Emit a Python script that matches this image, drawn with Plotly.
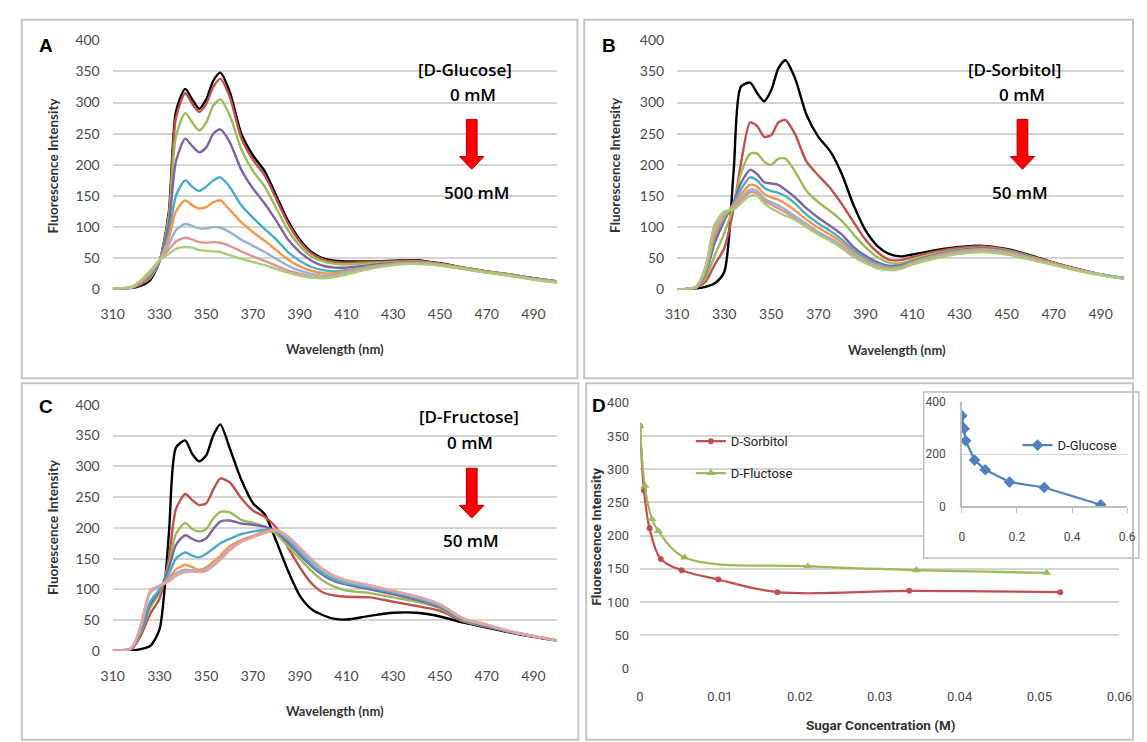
import plotly.graph_objects as go

W, H = 1147, 742

# ---------------- data ----------------
# emission wavelengths (nm) sampled for all spectra
wavelength = [310, 318, 322, 326, 330, 334, 337, 341, 344, 347, 350, 353, 356, 360, 365,
              370, 375, 380, 385, 390, 395, 400, 405, 410, 420, 430, 440, 450, 460, 470,
              480, 490, 500]

# Panel A: D-Glucose titration (0 -> 500 mM)
glucose_spectra = [
    [1, 2, 6, 15, 45, 125, 285, 322, 305, 290, 305, 335, 348, 318, 250, 215, 190, 150, 110, 80, 60, 50, 46, 45, 45, 46, 47, 42, 35, 29, 24, 18, 13],
    [1, 3, 8, 18, 45, 120, 275, 315, 298, 285, 298, 325, 338, 310, 243, 208, 183, 145, 106, 77, 58, 48, 44, 43, 44, 45, 46, 41, 35, 29, 24, 18, 13],
    [1, 3, 9, 20, 46, 115, 245, 283, 268, 255, 268, 295, 305, 280, 225, 190, 165, 130, 95, 70, 53, 45, 41, 40, 42, 44, 45, 41, 35, 29, 24, 18, 13],
    [1, 3, 10, 22, 46, 105, 205, 242, 230, 220, 228, 250, 257, 237, 192, 162, 138, 110, 80, 60, 46, 38, 35, 35, 39, 42, 44, 40, 34, 28, 23, 18, 12],
    [1, 3, 11, 24, 46, 90, 150, 175, 165, 158, 165, 175, 180, 165, 135, 115, 97, 80, 60, 46, 36, 31, 29, 31, 37, 41, 43, 40, 34, 28, 23, 17, 12],
    [1, 3, 12, 26, 47, 82, 125, 143, 135, 130, 132, 140, 143, 128, 108, 92, 78, 63, 48, 37, 30, 26, 26, 29, 36, 41, 43, 40, 34, 28, 23, 17, 12],
    [1, 3, 13, 28, 47, 72, 95, 105, 102, 98, 98, 100, 99, 92, 80, 70, 60, 49, 38, 30, 25, 22, 23, 27, 35, 40, 42, 39, 33, 27, 22, 17, 12],
    [1, 4, 14, 29, 47, 64, 77, 83, 80, 76, 75, 76, 75, 70, 61, 53, 46, 38, 30, 25, 21, 19, 21, 25, 34, 40, 42, 39, 33, 27, 22, 16, 11],
    [1, 4, 15, 30, 47, 57, 65, 68, 67, 63, 62, 61, 60, 55, 49, 44, 39, 33, 27, 22, 19, 18, 20, 24, 33, 39, 41, 38, 33, 27, 22, 16, 11],
]

# Panel B: D-Sorbitol titration (0 -> 50 mM)
sorbitol_spectra = [
    [0, 1, 4, 10, 28, 190, 325, 332, 315, 302, 320, 355, 368, 340, 280, 245, 222, 185, 135, 95, 70, 57, 53, 56, 63, 68, 70, 65, 55, 43, 33, 24, 18],
    [0, 3, 12, 40, 66, 130, 200, 268, 262, 245, 248, 268, 272, 250, 205, 183, 163, 137, 108, 80, 60, 48, 47, 52, 61, 67, 69, 64, 54, 43, 33, 24, 18],
    [0, 3, 18, 55, 90, 135, 185, 218, 218, 205, 200, 210, 210, 190, 158, 140, 126, 110, 88, 68, 52, 43, 42, 48, 58, 64, 67, 63, 53, 42, 32, 24, 18],
    [0, 3, 25, 75, 110, 140, 170, 192, 185, 172, 170, 168, 160, 148, 130, 115, 102, 88, 68, 54, 44, 38, 39, 45, 56, 63, 66, 62, 52, 41, 32, 24, 18],
    [0, 3, 28, 85, 115, 138, 160, 180, 175, 163, 158, 155, 150, 138, 120, 106, 94, 80, 63, 50, 41, 36, 37, 44, 55, 62, 65, 61, 52, 41, 32, 24, 18],
    [0, 4, 30, 90, 118, 135, 152, 168, 165, 153, 148, 144, 138, 127, 112, 99, 88, 75, 59, 47, 38, 34, 36, 43, 54, 61, 64, 60, 51, 41, 32, 24, 18],
    [0, 4, 33, 100, 122, 132, 146, 160, 158, 146, 140, 135, 128, 118, 105, 92, 82, 70, 56, 45, 36, 33, 35, 42, 53, 60, 63, 59, 50, 40, 31, 24, 18],
    [0, 4, 35, 103, 124, 130, 142, 156, 154, 142, 136, 130, 124, 114, 102, 89, 79, 67, 54, 43, 35, 32, 34, 41, 52, 59, 62, 58, 50, 40, 31, 23, 17],
    [0, 4, 36, 105, 125, 128, 138, 150, 150, 138, 130, 124, 118, 112, 100, 88, 78, 66, 52, 42, 34, 31, 33, 40, 50, 57, 60, 56, 48, 39, 30, 23, 17],
]

# Panel C: D-Fructose titration (0 -> 50 mM)
fructose_spectra = [
    [0, 1, 3, 8, 35, 190, 330, 342, 320, 308, 318, 350, 368, 330, 278, 240, 222, 178, 130, 90, 68, 58, 52, 51, 57, 62, 62, 56, 46, 38, 30, 23, 17],
    [0, 3, 25, 60, 85, 150, 230, 255, 245, 237, 240, 262, 280, 274, 248, 228, 218, 200, 168, 136, 110, 95, 90, 88, 87, 80, 73, 65, 48, 39, 31, 24, 17],
    [0, 4, 30, 70, 95, 140, 190, 208, 198, 194, 198, 215, 226, 225, 213, 208, 202, 190, 170, 150, 130, 114, 104, 98, 94, 87, 80, 69, 49, 40, 31, 24, 17],
    [0, 4, 32, 75, 98, 135, 172, 188, 182, 178, 183, 198, 210, 212, 207, 205, 202, 194, 176, 156, 138, 123, 113, 108, 100, 92, 83, 71, 50, 40, 31, 24, 17],
    [0, 4, 34, 80, 100, 125, 150, 160, 155, 152, 158, 166, 175, 182, 190, 194, 197, 196, 180, 160, 141, 126, 116, 110, 103, 95, 86, 73, 51, 41, 31, 24, 17],
    [0, 5, 40, 95, 105, 118, 132, 140, 136, 132, 136, 145, 155, 170, 180, 187, 194, 197, 185, 166, 147, 131, 120, 114, 106, 97, 88, 75, 52, 42, 32, 24, 17],
    [0, 5, 40, 95, 105, 115, 126, 132, 131, 130, 133, 140, 150, 165, 178, 185, 192, 195, 183, 165, 146, 130, 120, 113, 105, 97, 88, 75, 52, 42, 32, 24, 17],
    [0, 5, 42, 98, 106, 113, 122, 128, 129, 128, 130, 138, 148, 163, 177, 185, 192, 196, 186, 168, 149, 133, 122, 115, 107, 98, 89, 76, 53, 43, 32, 24, 17],
]

# Panel D: intensity at the emission maximum vs sugar concentration (M)
sorbitol_conc = [0, 0.0005, 0.0012, 0.0026, 0.0052, 0.0098, 0.0172, 0.0337, 0.0526]
sorbitol_int = [365, 268, 211, 165, 148, 134, 115, 117, 115]
fructose_conc = [0, 0.0006, 0.0015, 0.0023, 0.0056, 0.0210, 0.0346, 0.0509]
fructose_int = [365, 275, 225, 207, 167, 154, 148, 144]
glucose_conc = [0, 0.008, 0.014, 0.046, 0.085, 0.173, 0.299, 0.504]
glucose_int = [347, 297, 251, 177, 140, 93, 72, 6]

wl_ticks = list(range(310, 500, 20))

# ---------------- styling ----------------
series_colors = ["#000000", "#C0504D", "#9BBB59", "#8064A2", "#4BACC6",
                 "#F79646", "#95B3D7", "#D99694", "#ACCB7A"]
fructose_colors = ["#000000", "#C0504D", "#9BBB59", "#8064A2", "#4BACC6",
                   "#F79646", "#95B3D7", "#E8A2A2"]
GRID = "#D4D4D4"
TICK = "#4A4A4A"
FONT = "Lato, Open Sans, sans-serif"
NARROW = "Roboto, sans-serif"


def px(x):
    return x / W


def py(y):
    return 1 - y / H


fig = go.Figure()


def add_spectra(spectra, colors, xa, ya):
    for i, ys in enumerate(spectra):
        fig.add_trace(go.Scatter(
            x=wavelength, y=ys, mode="lines", xaxis=xa, yaxis=ya,
            line=dict(color=colors[i], width=2.4, shape="spline", smoothing=0.7),
            showlegend=False, hoverinfo="skip"))


add_spectra(glucose_spectra, series_colors, "x", "y")
add_spectra(sorbitol_spectra, series_colors, "x2", "y2")
add_spectra(fructose_spectra, fructose_colors, "x3", "y3")

fig.add_trace(go.Scatter(
    x=sorbitol_conc, y=sorbitol_int, mode="lines+markers", name="D-Sorbitol",
    xaxis="x4", yaxis="y4", legend="legend", legendgroup="s",
    line=dict(color="#C0504D", width=2.2, shape="spline", smoothing=1.0),
    marker=dict(symbol="circle", size=6, color="#C0504D")))
fig.add_trace(go.Scatter(
    x=fructose_conc, y=fructose_int, mode="lines+markers", name="D-Fluctose",
    xaxis="x4", yaxis="y4", legend="legend", legendgroup="f",
    line=dict(color="#9BBB59", width=2.2, shape="spline", smoothing=1.0),
    marker=dict(symbol="triangle-up", size=8, color="#9BBB59")))
fig.add_trace(go.Scatter(
    x=glucose_conc, y=glucose_int, mode="lines+markers", name="D-Glucose",
    xaxis="x5", yaxis="y5", legend="legend2",
    line=dict(color="#4F81BD", width=2.2),
    marker=dict(symbol="diamond", size=9, color="#4F81BD")))

tickfont = dict(family=FONT, size=14, color=TICK)
narrow_tick = dict(family=NARROW, size=13, color=TICK)


def spec_axes(x0, x1, y0, y1):
    xa = dict(domain=[px(x0), px(x1)], range=[310, 500], tickvals=wl_ticks,
              showgrid=False, zeroline=False, showline=False, ticks="",
              tickfont=tickfont, ticklabelstandoff=15, fixedrange=True)
    ya = dict(domain=[py(y1), py(y0)], range=[0, 400], dtick=50,
              showgrid=True, gridcolor=GRID, gridwidth=1.6, zeroline=False,
              showline=False, ticks="", tickfont=tickfont, ticklabelstandoff=12,
              fixedrange=True)
    return xa, ya


xa1, ya1 = spec_axes(103, 557, 32, 287)
xa2, ya2 = spec_axes(680, 1137, 32, 287)
xa3, ya3 = spec_axes(103, 557, 405, 657)
ya1["anchor"] = "x"; xa1["anchor"] = "y"
xa2["anchor"] = "y2"; ya2["anchor"] = "x2"
xa3["anchor"] = "y3"; ya3["anchor"] = "x3"

xa4 = dict(domain=[px(642), px(1132)], range=[0, 0.06], dtick=0.01, anchor="y4",
           showgrid=False, zeroline=False, showline=False, ticks="",
           tickfont=narrow_tick, ticklabelstandoff=18, fixedrange=True)
ya4 = dict(domain=[py(675), py(403)], range=[0, 400], dtick=50, anchor="x4",
           showgrid=True, gridcolor=GRID, gridwidth=1.6, zeroline=False,
           showline=False, ticks="", tickfont=narrow_tick, ticklabelstandoff=10,
           fixedrange=True)
xa5 = dict(domain=[px(971), px(1140)], range=[0, 0.6], dtick=0.2, anchor="y5",
           showgrid=False, zeroline=False, showline=True, linecolor="#BFBFBF",
           linewidth=1.5, ticks="outside", ticklen=5, tickcolor="#BFBFBF",
           tickfont=dict(family=NARROW, size=12, color=TICK),
           ticklabelstandoff=14, fixedrange=True)
ya5 = dict(domain=[py(509), py(402)], range=[0, 400], dtick=200, anchor="x5",
           showgrid=True, gridcolor=GRID, gridwidth=1.4, zeroline=False,
           showline=True, linecolor="#BFBFBF", linewidth=1.5, ticks="",
           tickfont=dict(family=NARROW, size=12, color=TICK),
           ticklabelstandoff=12, fixedrange=True)

# ---------------- panel frames, arrows ----------------
FRAME = "#C4C4C4"
shapes = []
for (x0, y0, x1, y1) in [(10, 11, 578, 378), (585, 11, 1146, 378),
                         (10, 383, 579, 748), (587, 383, 1146, 748)]:
    shapes.append(dict(type="rect", xref="paper", yref="paper",
                       x0=px(x0), x1=px(x1), y0=py(y1), y1=py(y0),
                       line=dict(color=FRAME, width=2), layer="below"))


def down_arrow(cx, top, bottom):
    sh, hh, head = 5.5, 12.5, 13
    pts = [(cx - sh, top), (cx + sh, top), (cx + sh, bottom - head),
           (cx + hh, bottom - head), (cx, bottom), (cx - hh, bottom - head),
           (cx - sh, bottom - head)]
    path = "M " + " L ".join(f"{px(x):.5f},{py(y):.5f}" for x, y in pts) + " Z"
    return dict(type="path", xref="paper", yref="paper", path=path,
                fillcolor="#FF0000", line=dict(color="#B00000", width=1), layer="above")


shapes.append(down_arrow(470, 113, 164))
shapes.append(down_arrow(1033, 113, 164))
shapes.append(down_arrow(470, 470, 521))

# white backing for the inset, between the main panel's grid and its traces
shapes.append(dict(type="rect", xref="x4", yref="y4", layer="between",
                   x0=(932 - 642) / 490 * 0.06, x1=0.07,
                   y0=(675 - 562) / 272 * 400, y1=420,
                   fillcolor="white", line=dict(width=0)))
shapes.append(dict(type="rect", xref="paper", yref="paper", layer="above",
                   x0=px(932), x1=px(1152), y0=py(562), y1=py(392),
                   line=dict(color="#BFBFBF", width=1.5), fillcolor="rgba(0,0,0,0)"))

# ---------------- text ----------------
annotations = []


def text(x, y, s, size=13, bold=False, family=FONT, angle=0, color="#111111", weight=None):
    font = dict(family=family, size=size, color=color)
    if weight:
        font["weight"] = weight
    annotations.append(dict(
        xref="paper", yref="paper", x=px(x), y=py(y),
        text=f"<b>{s}</b>" if bold else s,
        showarrow=False, xanchor="center", yanchor="middle", textangle=angle,
        font=font))


LETTER = "Liberation Sans, sans-serif"
text(35, 37, "A", 19, True, LETTER, color="#000")
text(610, 37, "B", 19, True, LETTER, color="#000")
text(35, 407, "C", 19, True, LETTER, color="#000")
text(600, 406, "D", 19, True, LETTER, color="#000")

# axis titles
for (x, y) in [(330, 348), (905, 349), (330, 718)]:
    text(x, y, "Wavelength (nm)", 13, True, color="#333")
for (x, y) in [(42, 160), (617, 160), (42, 530)]:
    text(x, y, "Fluorescence Intensity", 13.5, True, angle=-90, color="#333")
text(597, 540, "Fluorescence Intensity", 13.5, True, NARROW, angle=-90, color="#333")
text(888, 733, "Sugar Concentration (M)", 13.5, True, NARROW, color="#333")

# titration labels
LABEL = "Open Sans, sans-serif"
for (x, y, s) in [(463, 62, "[D-Glucose]"), (471, 88, "0 mM"), (475, 188, "500 mM"),
                  (1025, 62, "[D-Sorbitol]"), (1033, 88, "0 mM"), (1030, 188, "50 mM"),
                  (467, 417, "[D-Fructose]"), (468, 444, "0 mM"), (469, 544, "50 mM")]:
    text(x, y, s, 17, family=LABEL, color="#000", weight=600)

fig.update_layout(
    width=W, height=H, margin=dict(l=0, r=0, t=0, b=0),
    paper_bgcolor="white", plot_bgcolor="white",
    xaxis=xa1, yaxis=ya1, xaxis2=xa2, yaxis2=ya2, xaxis3=xa3, yaxis3=ya3,
    xaxis4=xa4, yaxis4=ya4, xaxis5=xa5, yaxis5=ya5,
    shapes=shapes, annotations=annotations,
    legend=dict(x=px(694), y=py(427), xanchor="left", yanchor="top",
                bgcolor="rgba(0,0,0,0)", itemwidth=30, tracegroupgap=12,
                font=dict(family=NARROW, size=13, color="#222")),
    legend2=dict(x=px(1028), y=py(431), xanchor="left", yanchor="top",
                 bgcolor="rgba(0,0,0,0)", itemwidth=30,
                 font=dict(family=NARROW, size=13, color="#222")),
    showlegend=True,
)

fig.write_html("out.html")
